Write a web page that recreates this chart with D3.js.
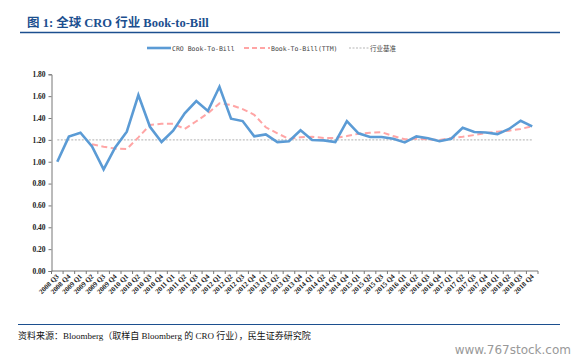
<!DOCTYPE html>
<html>
<head>
<meta charset="utf-8">
<script src="https://cdn.jsdelivr.net/npm/d3@7"></script>
<style>
  body { margin: 0; background: #fff; }
  svg { display: block; }
</style>
</head>
<body>
<div id="chart"></div>
<script>
// Chart data
const quarters = [];
for (let y = 2008; y <= 2018; y++) {
  ["Q1", "Q2", "Q3", "Q4"].forEach(q => {
    if (y === 2008 && (q === "Q1" || q === "Q2")) return;
    quarters.push(y + " " + q);
  });
}

const bookToBill = [1.00, 1.23, 1.265, 1.14, 0.93, 1.13, 1.275, 1.61, 1.32, 1.18,
  1.284, 1.443, 1.555, 1.464, 1.686, 1.394, 1.372, 1.232, 1.25, 1.18,
  1.187, 1.287, 1.198, 1.195, 1.18, 1.372, 1.26, 1.226, 1.226, 1.21,
  1.177, 1.232, 1.214, 1.187, 1.21, 1.311, 1.272, 1.268, 1.253, 1.30,
  1.375, 1.324];

// TTM series starts at 2009 Q2
const bookToBillTTM = [null, null, null, 1.159, 1.137, 1.12, 1.117, 1.223, 1.336, 1.348,
  1.348, 1.30, 1.37, 1.443, 1.534, 1.519, 1.482, 1.43, 1.315, 1.26,
  1.208, 1.223, 1.229, 1.217, 1.217, 1.235, 1.256, 1.265, 1.27, 1.235,
  1.205, 1.21, 1.205, 1.198, 1.217, 1.229, 1.244, 1.262, 1.275, 1.284,
  1.30, 1.324];

const benchmark = 1.2;
const yTicks = [0, 0.2, 0.4, 0.6, 0.8, 1.0, 1.2, 1.4, 1.6, 1.8];

const width = 579, height = 361;

const svg = d3.select("#chart").append("svg")
    .attr("width", width)
    .attr("height", height);

// Title + rules
svg.append("text")
    .attr("x", 27).attr("y", 27)
    .style("font-family", "'Liberation Serif', 'Noto Sans CJK SC', serif")
    .style("font-weight", "bold")
    .style("font-size", "12.5px")
    .style("fill", "#1c4f8f")
    .text("图 1:  全球 CRO 行业 Book-to-Bill");

svg.append("line")
    .attr("x1", 20).attr("x2", 560).attr("y1", 32.5).attr("y2", 32.5)
    .style("stroke", "#1c4f8f").style("stroke-width", 1.5);

svg.append("line")
    .attr("x1", 18).attr("x2", 560).attr("y1", 324.5).attr("y2", 324.5)
    .style("stroke", "#1c4f8f").style("stroke-width", 1.2);

svg.append("text")
    .attr("x", 18).attr("y", 339)
    .style("font-family", "'Liberation Serif', 'Noto Sans CJK SC', serif")
    .style("font-size", "9px")
    .style("fill", "#111")
    .text("资料来源：Bloomberg（取样自 Bloomberg 的 CRO 行业），民生证券研究院");

svg.append("text")
    .attr("x", 571).attr("y", 354)
    .attr("text-anchor", "end")
    .style("font-family", "'DejaVu Sans', sans-serif")
    .style("font-size", "12px")
    .style("fill", "#999")
    .text("www.767stock.com");

// Scales
const x = d3.scaleBand()
    .domain(quarters)
    .range([51.5, 538])
    .padding(0);

const y = d3.scaleLinear()
    .domain([0, 1.8])
    .range([271, 74.3]);

const cx = d => x(d) + x.bandwidth() / 2;

// Y axis
const yAxis = d3.axisLeft(y)
    .tickValues(yTicks)
    .tickFormat(d3.format(".2f"))
    .tickSize(3);

const gy = svg.append("g")
    .attr("transform", `translate(${x.range()[0]},0)`)
    .call(yAxis);
gy.select(".domain").style("stroke", "#777");
gy.selectAll(".tick line").style("stroke", "#777");
gy.selectAll(".tick text")
    .attr("x", -6)
    .style("font-family", "'Liberation Serif', serif")
    .style("font-weight", "bold")
    .style("font-size", "7.5px")
    .style("fill", "#222");

// X axis (ticks at band boundaries)
const gx = svg.append("g");
gx.append("line")
    .attr("x1", x.range()[0]).attr("x2", x.range()[1])
    .attr("y1", y(0)).attr("y2", y(0))
    .style("stroke", "#777");
gx.selectAll(".xtick")
    .data(quarters.concat(["end"]))
    .enter().append("line")
    .attr("class", "xtick")
    .attr("x1", (d, i) => x.range()[0] + i * x.bandwidth())
    .attr("x2", (d, i) => x.range()[0] + i * x.bandwidth())
    .attr("y1", y(0)).attr("y2", y(0) + 3)
    .style("stroke", "#777");
gx.selectAll(".xlabel")
    .data(quarters)
    .enter().append("text")
    .attr("class", "xlabel")
    .attr("text-anchor", "end")
    .attr("transform", d => `translate(${cx(d) + 2},${y(0) + 6}) rotate(-45)`)
    .style("font-family", "'Liberation Serif', serif")
    .style("font-weight", "bold")
    .style("font-size", "7px")
    .style("fill", "#222")
    .text(d => d);

// Benchmark line
svg.append("line")
    .attr("x1", cx(quarters[0])).attr("x2", cx(quarters[quarters.length - 1]))
    .attr("y1", y(benchmark)).attr("y2", y(benchmark))
    .style("stroke", "#c0c0c0")
    .style("stroke-width", 1.3)
    .style("stroke-dasharray", "2,1.5");

// TTM dashed line
const ttmLine = d3.line()
    .defined(d => d[1] !== null)
    .x(d => cx(d[0]))
    .y(d => y(d[1]));

svg.append("path")
    .datum(quarters.map((q, i) => [q, bookToBillTTM[i]]))
    .attr("d", ttmLine)
    .style("fill", "none")
    .style("stroke", "#ffa5a5")
    .style("stroke-width", 2)
    .style("stroke-dasharray", "6,3.5");

// Main series
svg.append("path")
    .datum(quarters.map((q, i) => [q, bookToBill[i]]))
    .attr("d", ttmLine)
    .style("fill", "none")
    .style("stroke", "#5b9bd5")
    .style("stroke-width", 2.6)
    .style("stroke-linejoin", "miter");

// Legend
const legendItems = [
  { label: "CRO Book-To-Bill", color: "#5b9bd5", width: 2.6, dash: null, x0: 147, len: 24 },
  { label: "Book-To-Bill(TTM)", color: "#ffa5a5", width: 2, dash: "5,3", x0: 244, len: 26 },
  { label: "行业基准", color: "#b5b5b5", width: 1, dash: "2,1.5", x0: 349, len: 20 }
];

const legend = svg.append("g").attr("class", "legend");
legendItems.forEach(d => {
  legend.append("line")
      .attr("x1", d.x0).attr("x2", d.x0 + d.len)
      .attr("y1", 48).attr("y2", 48)
      .style("stroke", d.color)
      .style("stroke-width", d.width)
      .style("stroke-dasharray", d.dash);
  legend.append("text")
      .attr("x", d.x0 + d.len + 1).attr("y", 50.5)
      .style("font-family", "'DejaVu Sans Mono', 'Noto Sans CJK SC', monospace")
      .style("font-size", "6.5px")
      .style("fill", "#444")
      .text(d.label);
});
</script>
</body>
</html>
